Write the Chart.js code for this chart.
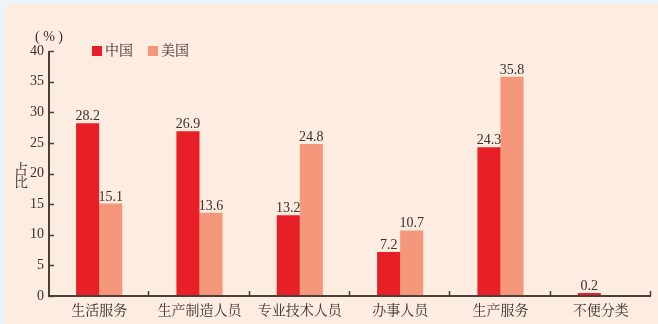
<!DOCTYPE html>
<html>
<head>
<meta charset="utf-8">
<script src="https://cdn.jsdelivr.net/npm/chart.js@4"></script>
<style>
  html, body { margin: 0; padding: 0; background: #edf4f9; }
  #wrap { width: 658px; height: 324px; position: relative; }
</style>
</head>
<body>
<div id="wrap"><canvas id="grafica" width="658" height="324"></canvas></div>
<script>
// categorias del eje X
const categorias = ["生活服务", "生产制造人员", "专业技术人员", "办事人员", "生产服务", "不便分类"];
// series (%)
const datosChina = [28.2, 26.9, 13.2, 7.2, 24.3, 0.2];
const datosEEUU = [15.1, 13.6, 24.8, 10.7, 35.8, null];
const nombresSeries = ["中国", "美国"];
const coloresSeries = ["#e81f27", "#f4977a"];
// eje Y
const yMin = 0, yMax = 40, yPaso = 5;

const fuente = "'Liberation Serif', 'Noto Serif CJK SC', 'Noto Sans CJK SC', serif";
const colorTexto = "#3a2f2b";
const colorEje = "#4b3f3a";

const decorado = {
  id: 'decorado',
  beforeDraw(chart) {
    const ctx = chart.ctx;
    ctx.save();
    ctx.fillStyle = '#edf4f9';
    ctx.fillRect(0, 0, chart.width, chart.height);
    ctx.fillStyle = '#fdece0';
    ctx.fillRect(6, 4, chart.width - 6, chart.height - 4);
    ctx.restore();
  },
  afterDatasetsDraw(chart) {
    const ctx = chart.ctx;
    const area = chart.chartArea;
    const y = chart.scales.y;
    ctx.save();
    // ejes
    ctx.strokeStyle = colorEje;
    ctx.lineWidth = 2;
    ctx.beginPath();
    ctx.moveTo(area.left, area.top);
    ctx.lineTo(area.left, area.bottom);
    ctx.lineTo(area.right, area.bottom);
    ctx.stroke();
    // marcas del eje Y
    ctx.lineWidth = 1.5;
    for (let v = yMin; v <= yMax; v += yPaso) {
      const py = Math.round(y.getPixelForValue(v)) + 0.5;
      ctx.beginPath();
      ctx.moveTo(area.left, py);
      ctx.lineTo(area.left + 5, py);
      ctx.stroke();
    }
    // marcas del eje X entre categorias
    const ancho = (area.right - area.left) / categorias.length;
    for (let i = 1; i <= categorias.length; i++) {
      const px = Math.round(area.left + ancho * i) - 0.5;
      ctx.beginPath();
      ctx.moveTo(px, area.bottom);
      ctx.lineTo(px, area.bottom - 5);
      ctx.stroke();
    }
    // etiquetas de valores
    ctx.fillStyle = colorTexto;
    ctx.font = "14px " + fuente;
    ctx.textAlign = 'center';
    ctx.textBaseline = 'alphabetic';
    chart.data.datasets.forEach((ds, di) => {
      const meta = chart.getDatasetMeta(di);
      meta.data.forEach((bar, i) => {
        const v = ds.data[i];
        if (v === null || v === undefined) return;
        ctx.fillText(v.toFixed(1), bar.x, bar.y - 3);
      });
    });
    // leyenda
    let lx = 92;
    ctx.textAlign = 'left';
    ctx.textBaseline = 'middle';
    nombresSeries.forEach((n, i) => {
      ctx.fillStyle = coloresSeries[i];
      ctx.fillRect(lx, 46, 10, 10);
      ctx.fillStyle = colorTexto;
      ctx.fillText(n, lx + 13, 51);
      lx += 56;
    });
    // unidad y titulo del eje
    ctx.textAlign = 'center';
    ctx.fillText("( % )", 49, 37);
    ctx.fillText("占", 21, 170);
    ctx.fillText("比", 21, 183);
    ctx.restore();
  }
};

new Chart(document.querySelector('#grafica'), {
  type: 'bar',
  data: {
    labels: categorias,
    datasets: [
      { label: nombresSeries[0], data: datosChina, backgroundColor: coloresSeries[0], minBarLength: 3 },
      { label: nombresSeries[1], data: datosEEUU, backgroundColor: coloresSeries[1], minBarLength: 3 }
    ]
  },
  options: {
    responsive: false,
    animation: false,
    events: [],
    categoryPercentage: 0.46,
    barPercentage: 1,
    layout: { padding: { top: 51, right: 7, left: 0, bottom: 0 } },
    plugins: { legend: { display: false }, tooltip: { enabled: false } },
    scales: {
      x: {
        grid: { display: false, drawTicks: false },
        border: { display: false },
        ticks: { color: colorTexto, font: { family: fuente, size: 14 }, padding: 7, maxRotation: 0, autoSkip: false },
        afterFit(s) { s.height = 28; }
      },
      y: {
        min: yMin, max: yMax,
        grid: { display: false, drawTicks: false },
        border: { display: false },
        ticks: { stepSize: yPaso, color: colorTexto, font: { family: fuente, size: 14 }, padding: 5 },
        afterFit(s) { s.width = 49; }
      }
    }
  },
  plugins: [decorado]
});
</script>
</body>
</html>
